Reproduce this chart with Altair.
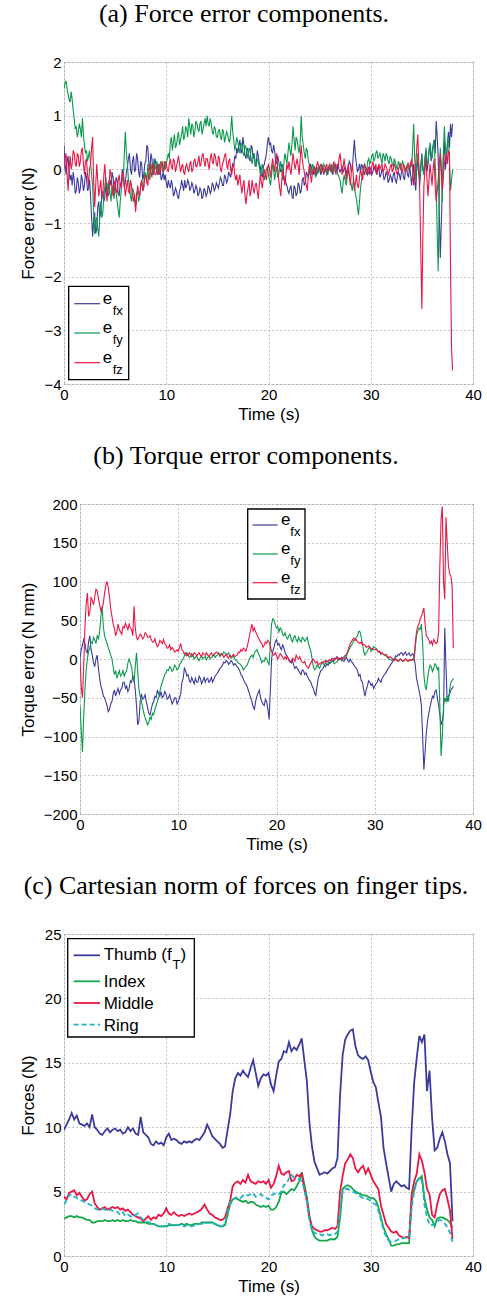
import altair as alt
import numpy as np
import pandas as pd

# ---------------- data ----------------
STEP_A = 0.1
FX_A = [0.45, 0.1, -0.1, 0.15, 0.25, -0.05, -0.2, -0.1, -0.3, -0.05,
        -0.2, -0.45, -0.4, -0.15, -0.25, -0.45, -0.35, -0.1, -0.2, -0.4,
        -0.3, -0.05, -0.15, -0.4, -0.35, -0.2, -0.5, -0.9, -1.25, -0.95,
        -0.8, -1.2, -1.1, -0.7, -0.6, -0.9, -0.75, -0.5, -0.4, -0.6,
        -0.5, -0.3, -0.25, -0.5, -0.45, -0.2, -0.3, -0.05, -0.15, -0.4,
        -0.35, -0.15, -0.2, -0.45, -0.5, -0.25, -0.3, 0.0, -0.1, -0.35,
        -0.25, -0.05, 0.05, 0.2, 0.3, 0.0, -0.1, 0.15, 0.25, -0.05,
        0.0, 0.3, 0.2, -0.05, -0.15, 0.15, 0.1, -0.2, -0.1, 0.1,
        0.15, 0.45, 0.4, 0.1, 0.0, 0.3, 0.2, -0.1, -0.05, 0.2,
        0.1, -0.05, -0.1, 0.1, 0.05, -0.2, -0.15, -0.05, -0.2, -0.1,
        -0.25, -0.35, -0.2, -0.3, -0.35, -0.2, -0.3, -0.5, -0.45, -0.35,
        -0.4, -0.5, -0.55, -0.4, -0.35, -0.2, -0.3, -0.4, -0.2, -0.35,
        -0.3, -0.2, -0.25, -0.4, -0.35, -0.25, -0.3, -0.45, -0.4, -0.3,
        -0.35, -0.5, -0.45, -0.35, -0.4, -0.55, -0.5, -0.35, -0.4, -0.5,
        -0.45, -0.3, -0.35, -0.45, -0.4, -0.25, -0.3, -0.4, -0.35, -0.25,
        -0.3, -0.35, -0.25, -0.15, -0.2, -0.3, -0.3, -0.1, -0.15, -0.25,
        -0.2, -0.05, -0.1, -0.15, 0.0, 0.1, 0.05, 0.25, 0.2, 0.4,
        0.3, 0.45, 0.55, 0.3, 0.35, 0.6, 0.45, 0.25, 0.2, 0.4,
        0.35, 0.2, 0.15, 0.45, 0.4, 0.2, 0.3, 0.05, 0.1, 0.35,
        0.25, 0.1, 0.05, -0.1, -0.15, 0.05, 0.1, 0.2, 0.3, 0.5,
        0.6, 0.45, 0.5, 0.35, 0.3, 0.45, 0.35, 0.15, 0.1, 0.25,
        0.15, 0.0, -0.05, 0.1, 0.05, -0.2, -0.15, -0.25, -0.3, -0.4,
        -0.45, -0.35, -0.3, -0.5, -0.55, -0.3, -0.35, -0.5, -0.45, -0.25,
        -0.3, -0.45, -0.4, -0.2, -0.15, -0.3, -0.25, -0.05, -0.1, -0.15,
        -0.05, 0.1, 0.05, -0.05, -0.1, 0.05, 0.0, -0.1, -0.05, 0.05,
        0.05, -0.1, -0.05, 0.05, 0.0, -0.05, 0.05, -0.05, -0.1, 0.05,
        0.0, 0.05, -0.05, -0.1, 0.05, 0.1, 0.0, -0.05, 0.1, 0.0,
        -0.05, 0.0, 0.05, -0.05, 0.0, 0.05, -0.1, 0.0, 0.05, 0.15,
        0.1, -0.05, 0.0, 0.3, 0.55, 0.25, 0.1, -0.05, 0.0, 0.1,
        -0.05, 0.1, 0.05, -0.05, -0.1, 0.05, 0.0, -0.1, -0.05, 0.05,
        0.0, -0.1, -0.05, 0.05, 0.05, -0.05, -0.1, 0.05, 0.0, -0.15,
        -0.1, 0.0, -0.05, -0.2, -0.15, -0.05, -0.1, -0.25, -0.2, -0.1,
        -0.15, -0.25, -0.1, -0.05, -0.2, -0.25, -0.15, -0.05, -0.1, -0.2,
        -0.05, 0.0, -0.15, -0.2, 0.0, 0.05, -0.1, -0.15, 0.05, -0.1,
        -0.3, -0.1, 0.1, -0.2, -0.4, 0.0, 0.2, -0.1, -0.2, 0.1,
        0.3, 0.0, -0.1, 0.2, 0.35, -0.05, 0.1, 0.35, 0.45, 0.15,
        0.3, 0.45, 0.55, 0.3, 0.9, 0.6, 0.2, -0.8, -1.65, -1.0,
        -0.4, 0.2, 0.55, 0.0, 0.2, 0.5, 0.7, 0.4, 0.85, 0.6,
        0.85]
FY_A = [1.5, 1.6, 1.65, 1.5, 1.4, 1.3, 1.25, 1.45, 1.3, 1.1,
        0.95, 0.75, 0.8, 0.6, 0.7, 0.85, 0.75, 0.6, 0.95, 0.65,
        0.45, 0.3, 0.35, 0.15, 0.25, 0.35, 0.1, -0.1, -0.3, -0.8,
        -1.2, -0.95, -0.9, -1.1, -1.25, -0.9, -0.6, -0.9, -0.8, -0.5,
        -0.3, -0.15, -0.5, -0.35, -0.2, -0.45, -0.6, -0.3, -0.4, -0.55,
        -0.3, -0.45, -0.6, -0.75, -0.9, -0.6, -0.4, -0.15, -0.2, 0.3,
        0.7, 0.3, 0.1, -0.2, -0.3, -0.5, -0.6, -0.35, -0.4, -0.55,
        -0.7, -0.45, -0.4, -0.6, -0.5, -0.3, -0.2, -0.4, -0.3, -0.05,
        -0.1, -0.25, 0.1, -0.05, -0.2, 0.1, 0.0, -0.1, 0.2, 0.05,
        0.0, 0.15, -0.1, -0.05, 0.1, 0.15, 0.0, -0.05, 0.15, 0.0,
        0.1, 0.2, 0.3, 0.2, 0.5, 0.6, 0.35, 0.5, 0.65, 0.4,
        0.45, 0.6, 0.7, 0.45, 0.55, 0.65, 0.8, 0.55, 0.6, 0.8,
        0.75, 0.6, 0.95, 0.8, 0.65, 0.85, 0.8, 0.6, 0.7, 0.9,
        0.85, 0.75, 0.7, 0.85, 0.9, 0.65, 0.75, 0.85, 0.95, 0.8,
        1.0, 0.85, 0.8, 0.95, 0.85, 0.7, 0.65, 0.8, 0.75, 0.6,
        0.6, 0.7, 0.75, 0.6, 0.55, 0.75, 0.7, 0.5, 0.6, 0.7,
        0.65, 0.55, 0.5, 0.7, 1.0, 0.7, 0.55, 0.35, 0.45, 0.6,
        0.5, 0.4, 0.3, 0.5, 0.45, 0.3, 0.25, 0.45, 0.4, 0.3,
        0.2, 0.4, 0.35, 0.2, 0.1, 0.25, 0.3, 0.1, 0.05, 0.2,
        0.15, 0.05, -0.1, 0.0, 0.1, -0.05, -0.2, -0.1, 0.0, 0.05,
        -0.1, -0.2, -0.3, -0.1, 0.1, 0.0, -0.2, -0.05, 0.05, -0.15,
        -0.1, 0.05, 0.15, -0.05, -0.2, 0.1, 0.3, 0.2, 0.1, 0.3,
        0.5, 0.35, 0.25, 0.5, 0.8, 0.55, 0.35, 0.6, 0.55, 0.4,
        0.3, 0.5, 1.0, 0.6, 0.45, 0.3, 0.2, 0.4, 0.35, 0.15,
        0.1, 0.0, -0.1, 0.1, 0.05, -0.05, -0.15, 0.05, 0.0, -0.05,
        0.05, 0.1, -0.05, 0.0, 0.1, 0.05, 0.0, -0.1, -0.05, 0.05,
        0.0, -0.05, 0.1, 0.05, -0.05, 0.1, 0.05, -0.05, -0.1, -0.15,
        -0.2, -0.35, -0.45, -0.25, -0.1, -0.2, -0.3, -0.15, 0.0, -0.1,
        -0.2, -0.3, -0.4, -0.2, -0.3, -0.45, -0.55, -0.7, -0.85, -0.6,
        -0.35, -0.2, -0.1, 0.05, 0.1, 0.0, -0.05, 0.15, 0.2, 0.1,
        0.15, 0.25, 0.3, 0.15, 0.2, 0.3, 0.35, 0.2, 0.25, 0.3,
        0.2, 0.1, 0.3, 0.25, 0.15, 0.3, 0.25, 0.15, 0.1, 0.25,
        0.2, 0.1, 0.05, 0.2, 0.15, 0.05, 0.0, 0.15, 0.1, 0.0,
        0.05, 0.15, 0.1, 0.0, -0.05, 0.05, 0.1, 0.0, 0.0, 0.1,
        0.05, 0.4, 0.85, 0.2, -0.2, 0.1, 0.3, 0.0, -0.3, 0.0,
        0.25, 0.0, -0.1, 0.2, 0.4, 0.15, 0.1, 0.35, 0.5, 0.3,
        0.2, 0.4, 0.55, 0.1, -0.3, -1.2, -1.9, -0.5, 0.4, 0.0,
        -0.6, 0.3, 0.8, 0.4, 0.2, 0.5, 0.6, 0.1, -0.4, -0.2,
        0.0]
FZ_A = [0.0, 0.2, 0.3, -0.1, -0.4, 0.0, 0.25, 0.0, 0.1, 0.35,
        0.3, 0.1, 0.05, 0.3, 0.25, 0.05, 0.15, 0.35, 0.4, 0.1,
        -0.1, 0.15, 0.2, -0.1, -0.3, 0.0, 0.1, 0.4, 0.6, -0.2,
        -0.7, -0.3, 0.1, -0.2, -0.5, -0.35, -0.2, -0.55, -0.45, -0.1,
        0.1, -0.3, -0.6, -0.4, -0.3, 0.0, -0.1, -0.35, -0.5, -0.3,
        -0.2, -0.4, -0.45, -0.2, -0.1, -0.3, -0.35, -0.1, -0.05, -0.3,
        -0.5, -0.35, -0.2, -0.4, -0.45, -0.2, -0.3, -0.5, -0.6, -0.45,
        -0.8, -0.55, -0.3, -0.45, -0.5, -0.3, -0.2, -0.4, -0.35, -0.15,
        -0.1, -0.25, -0.3, -0.05, 0.1, -0.05, -0.15, 0.1, 0.05, -0.1,
        -0.1, 0.05, 0.1, -0.1, -0.05, 0.1, 0.15, -0.05, 0.0, 0.15,
        0.1, 0.0, -0.05, 0.1, 0.2, 0.05, 0.0, 0.2, 0.15, -0.05,
        0.05, 0.15, 0.25, 0.1, -0.05, 0.05, 0.1, -0.05, -0.1, 0.05,
        0.1, 0.0, -0.05, 0.1, 0.15, -0.05, 0.0, 0.15, 0.2, 0.05,
        0.05, 0.15, 0.25, 0.05, 0.1, 0.25, 0.3, 0.15, 0.05, 0.2,
        0.2, 0.1, 0.0, 0.2, 0.3, 0.15, 0.1, 0.3, 0.25, 0.1,
        0.05, 0.25, 0.2, 0.0, -0.05, 0.1, 0.15, 0.25, 0.3, 0.1,
        0.0, 0.15, 0.2, 0.0, -0.1, 0.05, 0.1, -0.1, -0.2, -0.1,
        -0.3, -0.2, -0.1, -0.3, -0.45, -0.3, -0.2, -0.5, -0.65, -0.45,
        -0.35, -0.2, -0.5, -0.4, -0.2, -0.35, -0.45, -0.3, -0.25, -0.4,
        -0.55, -0.3, -0.1, -0.25, -0.35, -0.15, 0.0, -0.1, -0.2, 0.0,
        0.1, 0.0, -0.15, 0.05, 0.2, 0.1, -0.05, 0.15, 0.3, 0.0,
        -0.2, -0.35, -0.5, -0.2, 0.0, -0.15, -0.3, -0.1, 0.1, 0.0,
        0.15, 0.0, -0.1, 0.1, 0.3, 0.15, 0.0, 0.1, 0.2, 0.05,
        -0.1, 0.2, 0.45, 0.2, 0.05, -0.05, -0.2, -0.3, -0.4, -0.1,
        0.1, -0.1, -0.25, -0.05, 0.0, 0.05, -0.1, 0.05, 0.15, 0.05,
        0.0, -0.05, 0.1, 0.0, -0.1, 0.0, 0.05, 0.1, -0.05, 0.05,
        0.1, 0.0, -0.05, 0.05, 0.15, 0.0, -0.1, 0.1, 0.05, 0.2,
        0.3, 0.1, -0.1, 0.05, 0.2, 0.0, -0.2, -0.05, 0.1, -0.1,
        -0.3, -0.05, 0.1, -0.15, -0.4, -0.25, -0.1, -0.3, -0.35, -0.15,
        0.0, -0.1, -0.2, 0.0, 0.1, 0.0, -0.1, 0.0, 0.05, -0.1,
        -0.05, 0.05, 0.15, 0.05, 0.0, 0.1, -0.1, 0.0, 0.1, 0.0,
        0.05, 0.1, -0.05, 0.0, 0.1, 0.05, 0.0, -0.1, -0.05, 0.05,
        0.1, -0.05, 0.0, 0.1, 0.05, -0.05, -0.1, 0.0, 0.05, 0.1,
        0.0, -0.05, 0.1, 0.05, -0.05, 0.0, 0.05, 0.1, 0.0, 0.1,
        0.2, 0.0, -0.3, -0.1, 0.1, 0.4, 0.65, 0.1, -0.5, -1.6,
        -2.6, -1.2, -0.3, 0.0, 0.2, -0.2, -0.5, -0.2, 0.1, -0.1,
        -0.3, 0.0, 0.2, -0.3, -0.6, -0.4, -0.2, 0.1, 0.3, 0.0,
        -0.4, -0.1, 0.1, 0.2, 0.3, 0.1, 0.35, 0.3, -1.8, -3.3,
        -3.75]

STEP_B = 0.125
TX_B = [0, 12, 18, 25, 20, 10, 8, 22,
        30, 12, 5, -5, -10, 0, 5, -12,
        -25, -35, -40, -48, -50, -55, -60, -68,
        -65, -58, -55, -45, -40, -48, -42, -38,
        -45, -40, -38, -30, -30, -38, -35, -42,
        -38, -28, -30, -22, -25, -40, -60, -85,
        -80, -55, -45, -52, -50, -46, -55, -62,
        -70, -72, -65, -58, -55, -48, -50, -40,
        -45, -48, -42, -50, -48, -42, -45, -52,
        -50, -46, -52, -58, -55, -50, -50, -58,
        -55, -50, -45, -30, -25, -12, -15, -22,
        -20, -28, -30, -24, -28, -32, -25, -30,
        -30, -22, -25, -32, -28, -24, -30, -26,
        -25, -30, -28, -24, -30, -26, -22, -20,
        -18, -15, -12, -10, -8, -4, -5, -2,
        -3, -7, -5, -2, -4, -8, -6, -8,
        -10, -12, -15, -20, -22, -26, -30, -32,
        -35, -40, -45, -50, -55, -62, -65, -55,
        -48, -44, -40, -50, -55, -58, -60, -52,
        -55, -65, -78, -40, 0, 10, 15, 22,
        25, 18, 20, 15, 12, 18, 15, 8,
        5, 2, 0, -3, -5, -2, -8, -12,
        -10, -12, -15, -18, -20, -14, -15, -20,
        -18, -22, -25, -28, -30, -35, -38, -44,
        -47, -35, -25, -20, -15, -14, -12, -8,
        -10, -6, -8, -4, -5, -2, -3, 1,
        0, 3, 2, -1, 0, 2, -2, -3,
        0, 2, -2, -4, 0, -3, -5, -8,
        -10, -12, -15, -22, -20, -28, -30, -40,
        -48, -40, -35, -28, -30, -34, -32, -38,
        -35, -32, -30, -25, -28, -30, -25, -22,
        -20, -18, -15, -12, -10, -7, -5, -2,
        0, 4, 3, 6, 5, 8, 8, 5,
        7, 9, 5, 6, 8, 4, 5, 7,
        3, -8, -25, -32, -40, -48, -60, -100,
        -143, -120, -95, -80, -70, -62, -55, -48,
        -50, -42, -40, -50, -60, -72, -85, -80,
        -70, 40, -10, -55, -48, -45, -40, -38,
        -35]
TY_B = [-60, -90, -120, -75, -40, -15, 0, 10,
        15, 22, 20, 28, 25, 20, 30, 26,
        35, 55, 68, 42, 30, 25, 20, 15,
        10, 5, 0, -10, -20, -15, -25, -20,
        -15, -22, -20, -15, -22, -18, -15, -5,
        0, -5, -10, -22, -30, -10, 8, -15,
        -40, -48, -55, -62, -70, -76, -80, -85,
        -82, -75, -78, -70, -72, -65, -60, -55,
        -50, -42, -35, -30, -25, -20, -18, -14,
        -15, -10, -12, -16, -14, -8, -10, -14,
        -12, -8, -5, -2, 0, 4, 5, 8,
        5, 2, 3, 7, 5, 0, 2, 4,
        0, -2, 2, 4, 0, 2, 3, -1,
        2, 4, 0, 2, 3, 6, 2, 4,
        5, 8, 3, 6, 5, 9, 8, 5,
        6, 8, 4, 1, 2, 4, 0, -2,
        -3, -5, -6, -8, -10, -14, -12, -10,
        -8, -4, 0, 3, 5, 2, 8, 10,
        12, 8, 5, 0, -5, -2, -3, 2,
        0, -4, -8, 20, 45, 52, 50, 44,
        40, 42, 35, 40, 38, 32, 30, 34,
        28, 26, 30, 32, 25, 22, 28, 30,
        25, 22, 28, 24, 22, 28, 26, 23,
        25, 28, 20, 15, 10, 0, -10, -14,
        -12, -8, -10, -12, -8, -4, -5, -8,
        -5, -2, -3, -6, -5, -1, -3, -6,
        -5, -4, -2, 1, 0, -2, 2, 3,
        5, 4, 8, 12, 15, 18, 20, 24,
        25, 28, 30, 36, 35, 28, 20, 10,
        5, 8, 10, 14, 15, 10, 12, 16,
        15, 14, 12, 9, 10, 6, 8, 6,
        5, 4, 3, 1, 0, -1, -2, 0,
        -2, 0, -1, -3, -2, 0, -2, -3,
        -2, 0, -1, -3, -2, -1, -2, 0,
        -2, 15, 30, 36, 40, 38, 45, 20,
        -20, -35, -40, -25, -15, -8, -10, -16,
        -12, -6, -8, -14, -10, -60, -125, -100,
        -60, -50, -55, -48, -55, -40, -30, -28,
        -25]
TZ_B = [0, -35, -50, -10, 40, 70, 85, 55,
        60, 80, 75, 70, 80, 90, 88, 78,
        70, 62, 65, 72, 85, 95, 100, 92,
        80, 65, 55, 45, 40, 30, 35, 45,
        38, 35, 32, 42, 40, 46, 42, 38,
        45, 40, 38, 30, 68, 40, 28, 25,
        28, 32, 30, 26, 28, 34, 32, 28,
        28, 30, 25, 22, 22, 26, 20, 16,
        18, 24, 22, 20, 25, 20, 18, 14,
        15, 18, 12, 15, 13, 9, 10, 12,
        10, 15, 20, 12, 10, 6, 8, 4,
        5, 8, 6, 3, 5, 8, 7, 4,
        6, 8, 5, 3, 8, 6, 5, 8,
        5, 3, 6, 8, 4, 6, 7, 9,
        8, 6, 5, 7, 6, 2, 4, 6,
        3, 1, 5, 3, 4, 6, 3, 4,
        5, 9, 8, 12, 10, 14, 12, 10,
        15, 22, 30, 38, 45, 36, 40, 35,
        32, 28, 25, 22, 20, 15, 18, 22,
        20, 24, 22, 16, 10, 6, 5, 8,
        5, 0, 3, 7, 5, 2, 0, 3,
        0, 3, -2, -4, -3, 1, 0, -3,
        5, 2, 0, 3, -2, -4, -5, -3,
        -8, -10, -12, -8, -5, -2, 0, -3,
        -5, -3, -8, -6, -5, -6, -3, -4,
        -2, -4, -3, -1, -2, 1, 0, -2,
        0, 2, -1, 1, 0, 2, 1, 0,
        3, 6, 10, 15, 20, 22, 25, 27,
        24, 25, 22, 21, 20, 22, 18, 19,
        18, 15, 16, 17, 15, 13, 14, 12,
        12, 13, 11, 9, 10, 7, 8, 6,
        5, 6, 4, 2, 3, 2, 1, -1,
        -2, 0, -2, -3, -1, 0, -2, -3,
        -2, 0, -1, -3, -2, -1, -2, -1,
        0, 20, 35, 42, 45, 52, 55, 60,
        66, 45, 30, 28, 25, 20, 23, 18,
        25, 22, 20, 22, 35, 120, 180, 197,
        100, 77, 183, 150, 120, 110, 107, 94,
        14]

STEP_C = 0.25
THUMB = [9.8, 10.2, 10.6, 11.1, 10.6, 10.9, 10.3, 10.2, 10.1, 10.3, 10.0, 11.0,
         10.0, 9.8, 9.5, 9.4, 9.7, 9.9, 9.6, 9.8, 9.9, 9.7, 9.8, 9.5,
         9.6, 10.0, 9.7, 9.9, 9.5, 9.4, 10.8, 9.6, 9.4, 9.2, 8.7, 8.6,
         8.9, 8.7, 8.8, 8.6, 9.2, 9.5, 9.0, 9.1, 9.0, 8.8, 8.7, 8.9,
         8.8, 8.9, 8.8, 9.0, 9.1, 9.0, 9.3, 9.6, 10.2, 9.8, 9.3, 9.1,
         8.9, 8.7, 8.4, 8.5, 9.8, 11.0, 12.8, 13.8, 14.2, 14.0, 14.4, 14.1,
         13.9, 14.6, 15.2, 14.2, 13.2, 13.8, 14.1, 14.0, 14.2, 13.3, 12.8, 14.0,
         15.1, 15.3, 15.9, 15.8, 16.6, 15.9, 16.2, 16.0, 16.4, 16.9, 15.2, 13.6,
         10.4, 8.5, 7.3, 6.8, 6.3, 6.4, 6.5, 6.4, 6.6, 6.8, 6.9, 7.6,
         12.5, 15.6, 16.8, 17.2, 17.5, 17.6, 16.3, 15.6, 15.4, 15.3, 15.5, 15.2,
         14.3, 13.5, 13.1, 11.9, 10.8, 8.4, 7.2, 6.1, 5.0, 5.6, 5.8, 5.6,
         5.4, 5.5, 5.3, 5.2, 9.9, 13.5, 15.4, 17.1, 16.6, 17.2, 12.8, 14.4,
         10.7, 8.2, 8.4, 9.1, 9.6, 8.9, 7.9, 7.2, 2.7]
INDEX = [2.9, 3.0, 3.1, 3.1, 3.0, 3.1, 3.0, 3.0, 2.9, 2.8, 2.8, 2.6,
         2.6, 2.7, 2.7, 2.7, 2.8, 2.7, 2.7, 2.8, 2.7, 2.8, 2.7, 2.8,
         2.7, 2.7, 2.8, 2.7, 2.7, 2.6, 2.6, 2.6, 2.6, 2.5, 2.5, 2.5,
         2.4, 2.3, 2.3, 2.3, 2.3, 2.4, 2.4, 2.4, 2.4, 2.4, 2.5, 2.4,
         2.5, 2.4, 2.4, 2.5, 2.5, 2.5, 2.6, 2.6, 2.6, 2.6, 2.6, 2.5,
         2.4, 2.3, 2.3, 2.4, 3.2, 4.0, 4.4, 4.5, 4.4, 4.3, 4.2, 4.3,
         4.1, 4.2, 4.2, 4.0, 3.9, 3.8, 3.9, 3.8, 3.9, 3.6, 3.6, 3.8,
         4.2, 4.9, 5.0, 4.8, 5.0, 5.2, 5.1, 5.4, 5.8, 6.5, 5.6, 4.6,
         3.2, 2.0, 1.5, 1.3, 1.2, 1.2, 1.2, 1.2, 1.3, 1.3, 1.3, 1.5,
         3.0, 5.2, 5.4, 5.5, 5.4, 5.2, 5.0, 4.9, 4.8, 4.7, 4.7, 4.6,
         4.5, 4.5, 4.3, 3.8, 3.0, 2.2, 1.7, 1.3, 0.8, 0.8, 0.9, 0.9,
         1.0, 1.0, 1.0, 1.0, 4.2, 5.2, 5.8, 6.0, 6.2, 4.5, 3.6, 3.0,
         2.8, 2.3, 2.9, 3.0, 3.0, 2.9, 2.8, 2.6, 2.2]
MIDDLE = [4.6, 4.4, 4.9, 5.0, 5.1, 4.7, 4.9, 4.6, 4.3, 4.4, 4.8, 5.0,
          4.1, 3.8, 3.6, 3.7, 3.8, 3.6, 3.7, 3.8, 3.7, 3.8, 3.6, 3.7,
          3.5, 3.6, 3.4, 3.2, 3.1, 3.0, 2.9, 2.7, 2.9, 3.1, 2.8, 3.0,
          2.9, 3.2, 3.1, 3.3, 3.7, 3.3, 3.2, 3.4, 3.2, 3.1, 3.2, 3.1,
          3.2, 3.3, 3.2, 3.3, 3.4, 3.5, 3.7, 4.0, 3.6, 3.3, 3.2, 3.0,
          2.9, 2.8, 2.8, 3.0, 3.7, 4.3, 5.4, 5.7, 5.8, 5.6, 5.9, 5.7,
          6.3, 5.8, 5.7, 5.6, 5.8, 5.7, 5.8, 5.6, 5.9, 5.3, 5.6, 6.2,
          7.0, 6.4, 6.3, 6.5, 6.6, 5.8, 5.9, 6.3, 6.2, 6.4, 5.2, 4.3,
          3.0, 2.3, 2.1, 2.0, 1.9, 1.9, 2.0, 2.0, 2.1, 2.2, 2.1, 2.3,
          5.0, 6.2, 7.2, 7.5, 7.9, 7.6, 6.8, 6.5, 6.8, 7.0, 6.4, 6.8,
          6.3, 5.8, 5.5, 5.2, 3.9, 3.2, 2.5, 2.2, 1.9, 1.8, 1.9, 1.6,
          1.5, 1.4, 1.5, 1.4, 4.8, 5.8, 6.4, 7.9, 7.4, 6.5, 5.2, 4.8,
          3.2, 3.0, 4.0, 4.8, 5.1, 5.2, 4.4, 3.5, 1.3]
RING = [4.0, 4.3, 4.7, 4.8, 4.6, 4.5, 4.4, 4.3, 4.2, 4.1, 4.0, 3.9,
        3.7, 3.6, 3.6, 3.7, 3.6, 3.5, 3.6, 3.5, 3.5, 3.4, 3.2, 3.4,
        3.1, 3.2, 3.1, 3.0, 3.2, 3.3, 3.0, 2.8, 2.7, 2.6, 2.6, 2.5,
        2.4, 2.3, 2.3, 2.3, 2.4, 2.5, 2.4, 2.5, 2.4, 2.4, 2.4, 2.3,
        2.4, 2.3, 2.3, 2.4, 2.4, 2.5, 2.5, 2.5, 2.6, 2.6, 2.5, 2.5,
        2.4, 2.3, 2.3, 2.5, 3.5, 4.2, 4.4, 4.5, 4.6, 4.5, 4.7, 4.8,
        4.7, 4.8, 4.9, 4.6, 4.7, 4.8, 4.6, 4.5, 4.4, 4.7, 4.8, 4.9,
        4.8, 5.0, 5.5, 5.6, 6.0, 6.3, 6.1, 6.0, 6.0, 5.8, 5.2, 4.2,
        2.8, 2.0, 1.8, 1.7, 1.7, 1.6, 1.7, 1.7, 1.6, 1.7, 1.7, 1.9,
        3.5, 5.0, 5.2, 5.2, 5.1, 5.0, 4.9, 4.8, 4.6, 4.5, 4.5, 4.4,
        4.3, 4.1, 4.0, 3.5, 2.8, 2.0, 1.5, 1.2, 1.1, 1.1, 1.2, 1.3,
        1.3, 1.4, 1.4, 1.4, 3.8, 5.0, 5.8, 6.1, 5.8, 4.0, 3.0, 2.4,
        2.4, 2.5, 2.7, 2.8, 2.7, 2.5, 2.2, 1.8, 1.1]

TITLES = ["(a) Force error components.",
          "(b) Torque error components.",
          "(c) Cartesian norm of forces on finger tips."]
Y_TITLES = ["Force error (N)", "Torque error (N mm)", "Forces (N)"]
X_TITLE = "Time (s)"
X_TICKS = [0, 10, 20, 30, 40]
Y_TICKS_A = [-4, -3, -2, -1, 0, 1, 2]
Y_TICKS_B = [-200, -150, -100, -50, 0, 50, 100, 150, 200]
Y_TICKS_C = [0, 5, 10, 15, 20, 25]

# ---------------- styling ----------------
BLUE = "#3b3b9e"
GREEN = "#0b9a4d"
GREEN_C = "#14a84a"
RED = "#ea1745"
CYAN = "#1eb3c8"
SANS = "Liberation Sans"
SERIF = "Liberation Serif"
GRID = "#8f8f8f"


def series_frame(values, step):
    t = np.round(np.arange(len(values)) * step, 3)
    return pd.DataFrame({"t": t, "v": values})


def axes(yticks, ydomain, ytitle, title_x, h):
    xa = alt.Axis(values=X_TICKS, title=X_TITLE, grid=True, gridDash=[1, 3],
                  gridColor=GRID, gridWidth=1, domain=False, ticks=False,
                  labelPadding=3, labelFlush=False, labelOverlap=False,
                  labelFont=SANS, labelFontSize=15, labelColor="black",
                  titleFont=SANS, titleFontSize=17, titleFontWeight="normal",
                  titleColor="black", titleY=35, titleBaseline="alphabetic")
    ya = alt.Axis(values=yticks, title=ytitle, grid=True, gridDash=[1, 3],
                  gridColor=GRID, gridWidth=1, domain=False, ticks=False,
                  labelPadding=3, labelFlush=False, labelOverlap=False,
                  labelFont=SANS, labelFontSize=15, labelColor="black",
                  titleFont=SANS, titleFontSize=17, titleFontWeight="normal",
                  titleColor="black", titleX=title_x, titleY=h / 2,
                  titleBaseline="middle", titleAlign="center")
    xs = alt.Scale(domain=[0, 40], nice=False, zero=False)
    ys = alt.Scale(domain=ydomain, nice=False, zero=False)
    return xa, ya, xs, ys


ONE = alt.Data(values=[{"k": 0}])


def line_layer(df, color, width, xa, ya, xs, ys, dash=None):
    kw = dict(color=color, strokeWidth=width, clip=True)
    if dash is not None:
        kw["strokeDash"] = dash
    return alt.Chart(df).mark_line(**kw).encode(
        x=alt.X("t:Q", scale=xs, axis=xa),
        y=alt.Y("v:Q", scale=ys, axis=ya),
    )


def legend_box(x0, x1, y0, y1):
    return alt.Chart(ONE).mark_rect(fill="white", stroke="black", strokeWidth=1.3).encode(
        x=alt.value(x0), x2=alt.value(x1), y=alt.value(y0), y2=alt.value(y1))


def legend_line(x0, x1, y, color, width, dash=None):
    kw = dict(color=color, strokeWidth=width)
    if dash is not None:
        kw["strokeDash"] = dash
    return alt.Chart(ONE).mark_rule(**kw).encode(
        x=alt.value(x0), x2=alt.value(x1), y=alt.value(y))


def legend_text(x, y, txt, size, font=SANS, align="left"):
    return alt.Chart(ONE).mark_text(align=align, baseline="alphabetic", font=font,
                                    fontSize=size, color="black").encode(
        x=alt.value(x), y=alt.value(y), text=alt.value(txt))


def panel_title(text, xc):
    return legend_text(xc, -40, text, 26, font=SERIF, align="center")


# ---------------- panel (a) ----------------
WA, HA = 409, 322
xa, ya, xs, ys = axes(Y_TICKS_A, [-4, 2], Y_TITLES[0], -36, HA)
layers_a = [
    line_layer(series_frame(FX_A, STEP_A), BLUE, 1.1, xa, ya, xs, ys),
    line_layer(series_frame(FY_A, STEP_A), GREEN, 1.1, xa, ya, xs, ys),
    line_layer(series_frame(FZ_A, STEP_A), RED, 1.1, xa, ya, xs, ys),
    legend_box(4.7, 64.7, 224.3, 317.7),
    panel_title(TITLES[0], 180),
]
for yy, col, sub in [(241.7, BLUE, "fx"), (271.0, GREEN, "fy"), (300.7, RED, "fz")]:
    layers_a += [legend_line(10.3, 36, yy, col, 1.2),
                 legend_text(38.7, yy, "e", 17),
                 legend_text(48.7, yy + 11, sub, 13)]
chart_a = alt.layer(*layers_a).properties(width=WA, height=HA)

# ---------------- panel (b) ----------------
WB, HB = 393, 310
xa, ya, xs, ys = axes(Y_TICKS_B, [-200, 200], Y_TITLES[1], -52, HB)
layers_b = [
    line_layer(series_frame(TX_B, STEP_B), BLUE, 1.1, xa, ya, xs, ys),
    line_layer(series_frame(TY_B, STEP_B), GREEN, 1.1, xa, ya, xs, ys),
    line_layer(series_frame(TZ_B, STEP_B), RED, 1.1, xa, ya, xs, ys),
    legend_box(167.7, 225, 5, 95),
    panel_title(TITLES[1], 166),
]
for yy, col, sub in [(21, BLUE, "fx"), (50, GREEN, "fy"), (78.7, RED, "fz")]:
    layers_b += [legend_line(172.7, 197.7, yy, col, 1.2),
                 legend_text(201, yy, "e", 17),
                 legend_text(210.3, yy + 11, sub, 13)]
chart_b = alt.layer(*layers_b).properties(width=WB, height=HB)

# empty spacer so that panel (b)'s frame starts 16 px further right
spacer = alt.Chart(ONE).mark_point(opacity=0).encode(
    x=alt.X("k:Q", axis=None), y=alt.Y("k:Q", axis=None)
).properties(width=16, height=HB, view=alt.ViewBackground(stroke="transparent"))
row_b = alt.hconcat(spacer, chart_b, spacing=0, bounds="flush")

# ---------------- panel (c) ----------------
WC, HC = 409, 322
xa, ya, xs, ys = axes(Y_TICKS_C, [0, 25], Y_TITLES[2], -36, HC)
layers_c = [
    line_layer(series_frame(THUMB, STEP_C), BLUE, 1.8, xa, ya, xs, ys),
    line_layer(series_frame(INDEX, STEP_C), GREEN_C, 1.8, xa, ya, xs, ys),
    line_layer(series_frame(MIDDLE, STEP_C), RED, 1.8, xa, ya, xs, ys),
    line_layer(series_frame(RING, STEP_C), CYAN, 1.8, xa, ya, xs, ys, dash=[5, 3]),
    legend_box(3.7, 130.3, 4.7, 103),
    legend_line(9.7, 36, 21.3, BLUE, 1.8),
    legend_text(39.7, 26.3, "Thumb (f", 17),
    legend_text(108.5, 34.5, "T", 13),
    legend_text(116.5, 26.3, ")", 17),
    legend_line(9.7, 36, 47.3, GREEN_C, 1.8),
    legend_text(39.7, 53.3, "Index", 17),
    legend_line(9.7, 36, 69, RED, 1.8),
    legend_text(39.7, 75.3, "Middle", 17),
    legend_line(9.7, 36, 90.7, CYAN, 1.8, dash=[5, 3]),
    legend_text(39.7, 97, "Ring", 17),
    panel_title(TITLES[2], 182),
]
chart_c = alt.layer(*layers_c).properties(width=WC, height=HC)

chart = alt.vconcat(chart_a, row_b, chart_c, spacing=19).properties(
    padding={"left": 18, "top": 0, "right": 4, "bottom": 4}
).configure_view(stroke="black", strokeWidth=1.3).configure(background="white")

chart.save("out.html", embed_options={"renderer": "svg", "actions": False})
